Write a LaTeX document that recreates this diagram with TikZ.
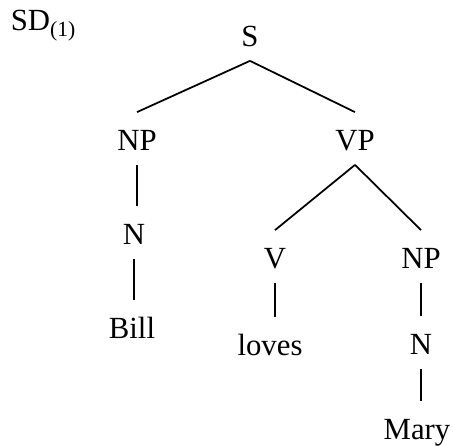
\documentclass[tikz,border=0pt]{standalone}
\usepackage{fontspec}
\setmainfont{Liberation Serif}
\usetikzlibrary{positioning,calc}
\newcommand{\subidx}[1]{\raisebox{-0.12cm}{\fontsize{12.3}{14}\selectfont #1}}

\begin{document}
\begin{tikzpicture}[font=\fontsize{17.5}{21}\selectfont, line width=1pt,
  lbl/.style={anchor=base, inner xsep=0pt, inner ysep=0.26cm, text height=0.5cm, text depth=0pt}]
        \useasboundingbox (0, 0) rectangle (9.06, 8.92);
        %nodes
        \node[anchor=base west, inner sep=0pt] (sd) at (0.2, 8.3) {SD\subidx{(1)}};
        \node[lbl] (s) at (5.0, 7.98) {S};
        \node[lbl] (np1) at (2.74, 5.9) {NP};
        \node[lbl] (vp) at (7.1, 5.9) {VP};
        \node[lbl] (n1) at (2.68, 4.02) {N};
        \node[lbl] (bill) at (2.64, 2.14) {Bill};
        \node[lbl] (v) at (5.5, 3.54) {V};
        \node[lbl] (np2) at (8.42, 3.54) {NP};
        \node[lbl] (loves) at (5.4, 1.8) {loves};
        \node[lbl] (n2) at (8.42, 1.82) {N};
        \node[lbl] (mary) at (8.34, 0.12) {Mary};
        %edges
        \path [draw] (s.south) to (np1.north);
        \path [draw] (s.south) to (vp.north);
        \path [draw] (np1.south) to (np1.south |- n1.north);
        \path [draw] (n1.south) to (n1.south |- bill.north);
        \path [draw] (vp.south) to (v.north);
        \path [draw] (vp.south) to (np2.north);
        \path [draw] (v.south) to (v.south |- loves.north);
        \path [draw] (np2.south) to (np2.south |- n2.north);
        \path [draw] (n2.south) to (n2.south |- mary.north);
      \end{tikzpicture}
\end{document}
